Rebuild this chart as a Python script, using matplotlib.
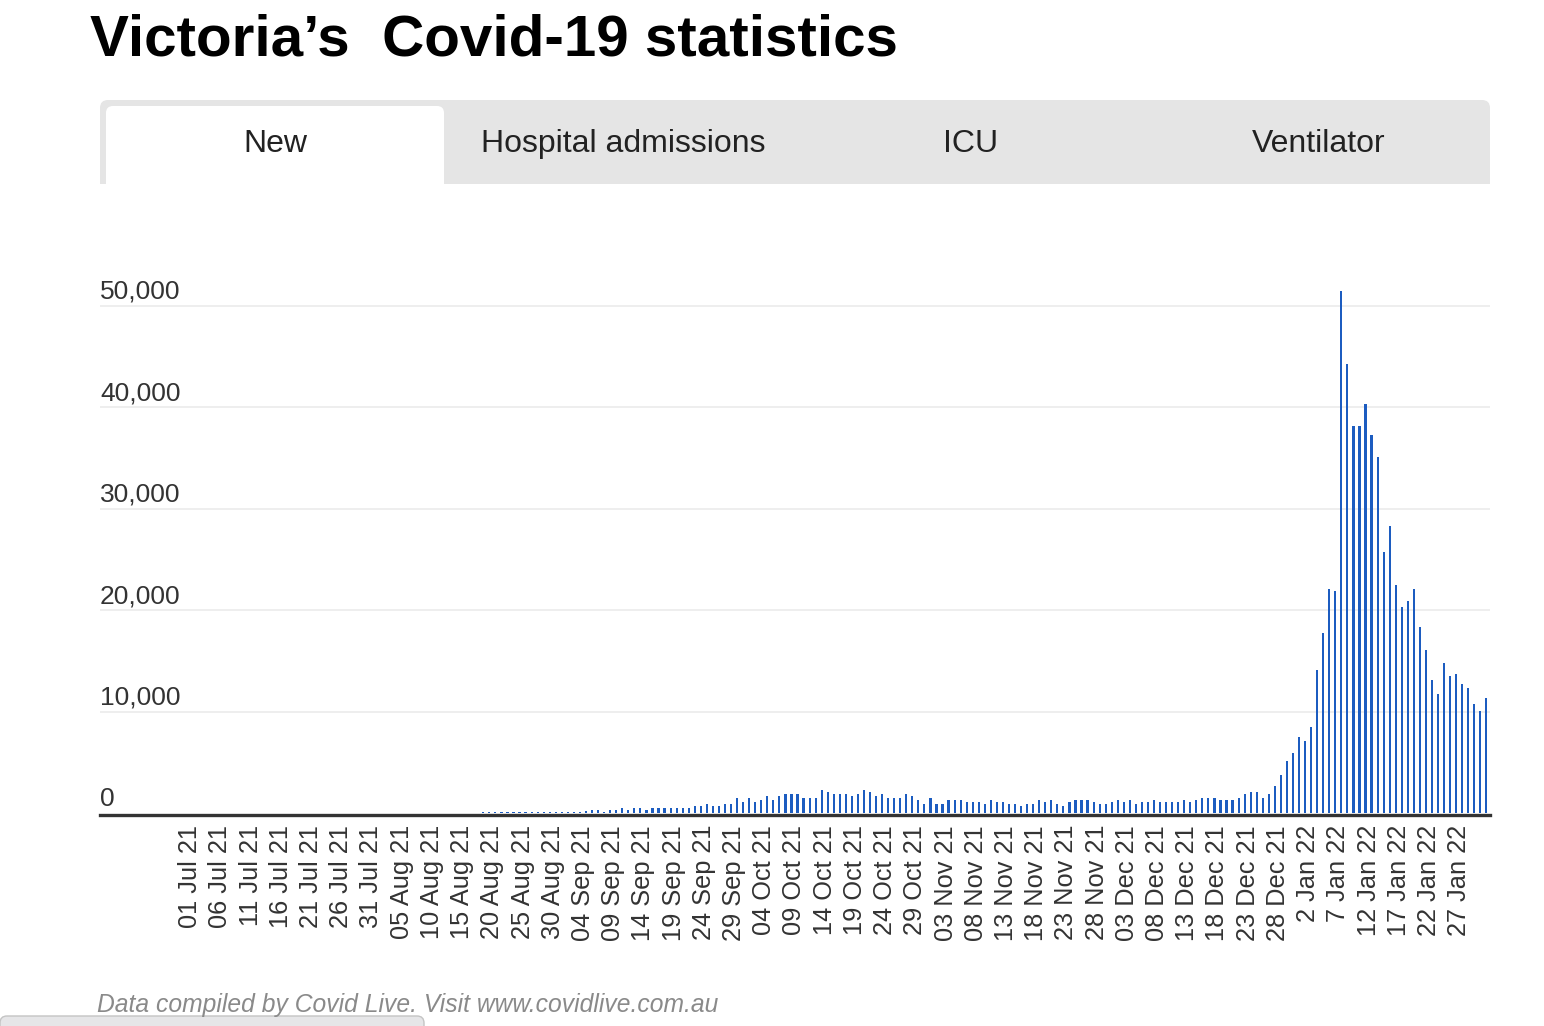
import numpy as np
import matplotlib.pyplot as plt
from matplotlib.patches import FancyBboxPatch, Rectangle
from matplotlib.transforms import ScaledTranslation

plt.rcParams['font.family'] = ['Liberation Sans', 'DejaVu Sans']

title = "Victoria\u2019s  Covid-19 statistics"
tabs = ["New", "Hospital admissions", "ICU", "Ventilator"]
footer = "Data compiled by Covid Live. Visit www.covidlive.com.au"

# daily new cases, 01 Jul 21 .. 01 Feb 22
cases_jul = [0, 0, 0, 0, 0, 0, 0, 0, 0, 0, 0, 0, 5, 8, 10, 20, 20, 20, 13, 12,
             22, 26, 14, 10, 11, 10, 11, 5, 1, 3, 2]
cases_aug = [1, 3, 6, 8, 10, 15, 26, 10, 20, 20, 21, 22, 22, 25, 22, 24, 24, 42,
             120, 125, 125, 130, 125, 120, 130, 130, 135, 130, 130, 135, 140]
cases_sep = [140, 140, 145, 140, 150, 300, 300, 130, 300, 300, 500, 300, 500, 500,
             300, 500, 500, 500, 500, 500, 500, 500, 700, 700, 900, 700, 700, 900,
             900, 1500]
cases_oct = [1100, 1500, 1100, 1300, 1700, 1300, 1700, 1900, 1900, 1900, 1500, 1500,
             1500, 2300, 2100, 1900, 1900, 1900, 1700, 1900, 2300, 2100, 1700, 1900,
             1500, 1500, 1500, 1900, 1700, 1300, 900]
cases_nov = [1500, 900, 900, 1300, 1300, 1300, 1100, 1100, 1100, 900, 1300, 1100,
             1100, 900, 900, 700, 900, 900, 1300, 1100, 1300, 900, 700, 1100, 1300,
             1300, 1300, 1100, 900, 900]
cases_dec = [1100, 1300, 1100, 1300, 900, 1100, 1100, 1300, 1100, 1100, 1100, 1100,
             1300, 1100, 1300, 1500, 1500, 1500, 1300, 1300, 1300, 1500, 1900, 2100,
             2100, 1500, 1900, 2700, 3700, 5100, 5900]
cases_jan = [7500, 7100, 8500, 14100, 17700, 22100, 21900, 51500, 44300, 38100,
             38100, 40300, 37300, 35100, 25700, 28300, 22500, 20300, 20900, 22100,
             18300, 16100, 13100, 11700, 14800, 13500, 13700, 12700, 12300, 10700,
             10100]
cases_feb = [11300]

cases = cases_jul + cases_aug + cases_sep + cases_oct + cases_nov + cases_dec + cases_jan + cases_feb

tick_labels = ["01 Jul 21", "06 Jul 21", "11 Jul 21", "16 Jul 21", "21 Jul 21",
               "26 Jul 21", "31 Jul 21", "05 Aug 21", "10 Aug 21", "15 Aug 21",
               "20 Aug 21", "25 Aug 21", "30 Aug 21", "04 Sep 21", "09 Sep 21",
               "14 Sep 21", "19 Sep 21", "24 Sep 21", "29 Sep 21", "04 Oct 21",
               "09 Oct 21", "14 Oct 21", "19 Oct 21", "24 Oct 21", "29 Oct 21",
               "03 Nov 21", "08 Nov 21", "13 Nov 21", "18 Nov 21", "23 Nov 21",
               "28 Nov 21", "03 Dec 21", "08 Dec 21", "13 Dec 21", "18 Dec 21",
               "23 Dec 21", "28 Dec 21", "2 Jan 22", "7 Jan 22", "12 Jan 22",
               "17 Jan 22", "22 Jan 22", "27 Jan 22"]
y_ticks = [0, 10000, 20000, 30000, 40000, 50000]

W, H = 1544, 1026
fig = plt.figure(figsize=(W / 100, H / 100), dpi=100)

# page layer, pixel coordinates (y down)
page = fig.add_axes([0, 0, 1, 1])
page.set_xlim(0, W)
page.set_ylim(H, 0)
page.axis('off')

page.text(90, 56, title, ha='left', va='baseline', fontsize=42,
          fontweight='bold', color='#000000')

# tab bar
page.add_patch(FancyBboxPatch((100, 100), 1390, 100,
                              boxstyle="round,pad=0,rounding_size=8",
                              fc='#e5e5e5', ec='none'))
page.add_patch(Rectangle((90, 184), 1410, 30, fc='white', ec='none'))
page.add_patch(FancyBboxPatch((106, 106), 338, 100,
                              boxstyle="round,pad=0,rounding_size=7",
                              fc='white', ec='none'))
tab_w = 1390 / len(tabs)
for i, name in enumerate(tabs):
    page.text(100 + tab_w * (i + 0.5) + 2, 152, name, ha='center', va='baseline',
              fontsize=23, color='#222222')

# footer
page.text(97, 1012, footer, ha='left', va='baseline', fontsize=17.7,
          style='italic', color='#8a8a8a')
page.add_patch(FancyBboxPatch((0, 1016), 424, 30,
                              boxstyle="round,pad=0,rounding_size=7",
                              fc='#e6e6e8', ec='#c4c4c4', lw=1))

# chart
ax = fig.add_axes([100 / W, 213 / H, 1390 / W, 558 / H])
ax.set_facecolor('none')
days = np.arange(len(cases))
ax.bar(days, cases, width=0.36, color='#1c5cc0', zorder=3)
ax.set_xlim(-14.43, 215.6)
ax.set_ylim(0, 55000)

for v in y_ticks[1:]:
    ax.axhline(v, color='#ebebeb', lw=1.2, zorder=1)
for v in y_ticks:
    ax.annotate(f"{v:,}", xy=(0, v), xycoords=ax.get_yaxis_transform(),
                xytext=(0, 5), textcoords='offset points',
                ha='left', va='baseline', fontsize=19, color='#333333')
ax.set_yticks([])

for side in ['top', 'left', 'right']:
    ax.spines[side].set_visible(False)
ax.spines['bottom'].set_color('#333333')
ax.spines['bottom'].set_linewidth(2.4)
ax.spines['bottom'].set_position(('outward', 1.2))

ax.set_xticks(days[:len(tick_labels) * 5:5])
ax.set_xticklabels(tick_labels, rotation=90, fontsize=18.3, color='#333333')
ax.tick_params(axis='x', length=0, pad=7.4)
# nudge the rotated labels a few pixels right, as in the original
shift = ScaledTranslation(3 / 100, 0, fig.dpi_scale_trans)
for lab in ax.get_xticklabels():
    lab.set_transform(lab.get_transform() + shift)

fig.savefig('out.png', dpi=100)
